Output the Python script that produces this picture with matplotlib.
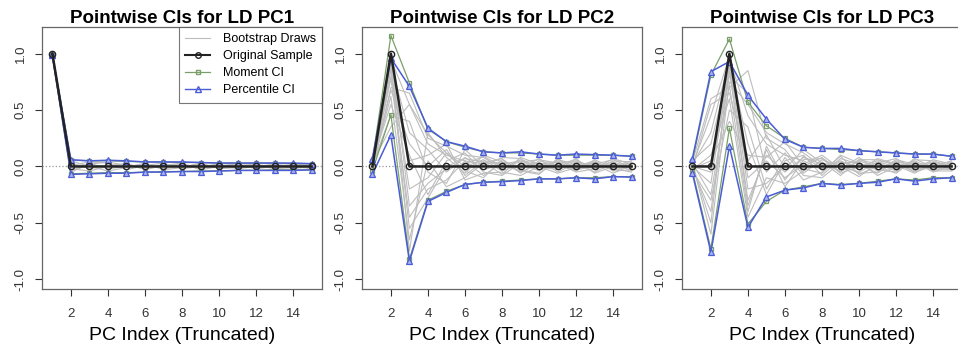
import numpy as np
import matplotlib
matplotlib.use("Agg")
import matplotlib.pyplot as plt
from matplotlib.lines import Line2D

plt.rcParams['font.family'] = ['Liberation Sans', 'DejaVu Sans']

pc_index = np.arange(1, 16)
titles = ["Pointwise CIs for LD PC1", "Pointwise CIs for LD PC2", "Pointwise CIs for LD PC3"]

# original sample loadings
orig_1 = [1, 0, 0, 0, 0, 0, 0, 0, 0, 0, 0, 0, 0, 0, 0]
orig_2 = [0, 1, 0, 0, 0, 0, 0, 0, 0, 0, 0, 0, 0, 0, 0]
orig_3 = [0, 0, 1, 0, 0, 0, 0, 0, 0, 0, 0, 0, 0, 0, 0]

# percentile CI
pct_hi_1 = [0.99, 0.06, 0.05, 0.055, 0.05, 0.04, 0.04, 0.04, 0.035, 0.03, 0.03, 0.03, 0.03, 0.03, 0.025]
pct_lo_1 = [0.985, -0.07, -0.065, -0.06, -0.06, -0.05, -0.05, -0.045, -0.045, -0.04, -0.035, -0.035, -0.035, -0.035, -0.03]
pct_hi_2 = [0.07, 0.96, 0.71, 0.34, 0.22, 0.18, 0.13, 0.12, 0.13, 0.11, 0.10, 0.11, 0.105, 0.10, 0.09]
pct_lo_2 = [-0.07, 0.28, -0.84, -0.31, -0.23, -0.16, -0.14, -0.135, -0.125, -0.11, -0.11, -0.10, -0.11, -0.09, -0.095]
pct_hi_3 = [0.07, 0.84, 0.93, 0.63, 0.42, 0.24, 0.17, 0.16, 0.16, 0.14, 0.13, 0.12, 0.11, 0.11, 0.09]
pct_lo_3 = [-0.06, -0.76, 0.18, -0.54, -0.27, -0.21, -0.19, -0.15, -0.165, -0.15, -0.14, -0.11, -0.13, -0.11, -0.10]

# moment CI
mom_hi_1 = [0.99, 0.055, 0.05, 0.05, 0.045, 0.04, 0.04, 0.035, 0.035, 0.03, 0.03, 0.03, 0.03, 0.025, 0.025]
mom_lo_1 = [0.985, -0.065, -0.06, -0.055, -0.055, -0.05, -0.045, -0.045, -0.04, -0.04, -0.035, -0.035, -0.03, -0.03, -0.03]
mom_hi_2 = [0.05, 1.16, 0.74, 0.33, 0.22, 0.17, 0.13, 0.12, 0.12, 0.11, 0.10, 0.10, 0.10, 0.10, 0.09]
mom_lo_2 = [-0.04, 0.46, -0.82, -0.30, -0.22, -0.16, -0.14, -0.13, -0.12, -0.11, -0.11, -0.10, -0.10, -0.09, -0.09]
mom_hi_3 = [0.05, 0.81, 1.13, 0.57, 0.36, 0.25, 0.17, 0.16, 0.15, 0.14, 0.13, 0.12, 0.11, 0.11, 0.09]
mom_lo_3 = [-0.04, -0.73, 0.34, -0.51, -0.31, -0.21, -0.18, -0.15, -0.16, -0.15, -0.13, -0.11, -0.12, -0.10, -0.10]

# a few bootstrap draws
draws_1 = [
    [0.99, 0.03, -0.02, 0.01, 0.02, -0.01, 0.00, 0.02, -0.01, 0.01, 0.00, -0.01, 0.01, 0.00, 0.01],
    [0.98, -0.04, 0.03, -0.02, 0.00, 0.02, -0.02, 0.00, 0.02, -0.01, 0.01, 0.02, -0.01, 0.01, -0.01],
    [0.99, 0.01, 0.04, 0.03, -0.03, 0.01, 0.03, -0.02, 0.00, 0.02, -0.02, 0.00, 0.02, -0.02, 0.00],
    [0.99, -0.02, -0.04, 0.00, 0.03, -0.03, 0.01, 0.03, -0.03, 0.00, 0.02, -0.02, 0.00, 0.02, 0.01],
    [0.98, 0.05, 0.00, -0.04, -0.01, 0.03, -0.03, -0.01, 0.03, -0.02, -0.01, 0.01, -0.02, -0.01, 0.02],
    [0.99, -0.05, 0.02, 0.04, 0.01, -0.02, 0.02, 0.01, -0.02, 0.03, 0.01, -0.01, 0.02, 0.00, -0.02],
]
draws_2 = [
    [0.02, 0.95, 0.55, 0.20, 0.10, 0.05, 0.02, 0.04, 0.00, 0.03, -0.02, 0.01, 0.03, 0.00, 0.02],
    [-0.01, 0.90, 0.30, 0.15, -0.05, 0.08, -0.03, 0.02, 0.05, -0.01, 0.02, -0.03, 0.00, 0.04, -0.01],
    [0.03, 0.85, -0.20, -0.10, 0.12, 0.00, 0.06, -0.04, 0.02, 0.03, 0.00, 0.05, -0.02, 0.01, 0.03],
    [0.00, 0.78, -0.45, -0.20, -0.12, 0.05, -0.08, 0.03, -0.05, 0.02, 0.04, -0.02, 0.03, -0.03, 0.00],
    [-0.03, 0.70, 0.65, 0.25, 0.18, 0.10, 0.08, -0.02, 0.06, 0.00, -0.03, 0.04, 0.01, 0.02, -0.02],
    [0.01, 0.62, -0.65, 0.05, -0.18, -0.10, 0.03, 0.07, -0.06, 0.05, 0.01, -0.04, 0.06, -0.01, 0.03],
    [0.04, 0.55, 0.10, -0.25, 0.05, 0.12, -0.05, -0.08, 0.03, -0.04, 0.06, 0.02, -0.05, 0.03, -0.04],
    [-0.02, 0.92, -0.75, 0.30, 0.08, -0.06, 0.10, 0.04, -0.02, 0.07, -0.05, 0.03, 0.02, -0.06, 0.01],
    [0.02, 0.45, 0.40, -0.05, -0.15, 0.15, 0.00, 0.08, 0.07, -0.03, 0.02, 0.06, -0.03, 0.05, 0.04],
    [0.00, 0.80, 0.05, 0.10, 0.20, -0.12, -0.06, -0.05, -0.08, 0.00, -0.06, -0.01, 0.04, -0.02, -0.05],
    [-0.04, 0.97, -0.35, -0.15, -0.02, 0.02, 0.09, 0.00, 0.04, 0.06, 0.03, -0.05, -0.02, 0.07, 0.02],
    [0.03, 0.35, 0.55, 0.28, 0.12, -0.04, -0.10, 0.06, -0.03, -0.06, 0.05, 0.00, 0.05, -0.04, -0.03],
    [0.01, 0.88, -0.55, -0.28, 0.00, 0.07, 0.04, -0.07, 0.08, 0.02, -0.02, 0.07, -0.06, 0.00, 0.05],
    [-0.01, 0.68, 0.20, 0.00, 0.15, -0.08, 0.05, 0.02, -0.04, -0.07, 0.07, -0.03, 0.02, 0.06, -0.01],
]
draws_3 = [
    [0.02, 0.30, 0.95, 0.45, 0.20, 0.10, 0.05, -0.03, 0.04, 0.00, 0.03, -0.02, 0.01, 0.04, 0.00],
    [-0.02, -0.40, 0.85, -0.30, 0.10, -0.05, 0.08, 0.02, -0.04, 0.05, -0.01, 0.03, -0.03, 0.00, 0.02],
    [0.04, 0.60, 0.70, 0.85, 0.25, 0.15, -0.06, 0.06, 0.00, -0.05, 0.04, 0.00, 0.05, -0.02, 0.03],
    [0.00, -0.15, 0.92, 0.20, -0.25, 0.05, 0.10, -0.08, 0.07, 0.02, -0.06, 0.05, 0.00, 0.03, -0.03],
    [-0.03, 0.10, 0.60, -0.45, -0.10, -0.15, -0.04, 0.04, -0.08, 0.06, 0.02, -0.04, 0.04, -0.05, 0.01],
    [0.03, -0.60, 0.75, 0.55, 0.30, 0.20, 0.12, 0.00, 0.05, -0.03, 0.07, 0.02, -0.04, 0.02, 0.04],
    [0.01, 0.45, 0.98, -0.10, 0.05, -0.10, 0.02, 0.10, -0.02, 0.08, -0.04, 0.06, 0.02, -0.03, -0.02],
    [-0.04, -0.30, 0.50, 0.35, -0.20, 0.08, -0.12, -0.05, 0.09, -0.07, 0.00, -0.06, 0.06, 0.05, 0.00],
    [0.05, 0.20, 0.88, -0.35, 0.15, -0.18, 0.06, 0.07, -0.06, 0.00, 0.05, 0.03, -0.05, 0.00, 0.05],
    [0.00, -0.05, 0.80, 0.65, -0.05, 0.12, -0.08, -0.10, 0.03, 0.04, -0.08, 0.00, 0.03, -0.04, -0.04],
    [-0.01, 0.55, 0.65, 0.05, 0.28, -0.02, 0.15, 0.03, 0.00, -0.09, 0.03, 0.07, -0.02, 0.06, 0.02],
    [0.02, -0.50, 0.93, -0.20, -0.15, 0.00, -0.02, -0.06, 0.10, 0.03, -0.03, -0.05, 0.07, -0.01, -0.03],
    [-0.02, 0.05, 0.40, 0.10, 0.08, 0.22, 0.00, 0.08, -0.05, 0.06, 0.06, 0.01, -0.06, 0.03, 0.01],
    [0.03, -0.25, 0.72, -0.40, 0.18, -0.12, 0.09, -0.02, 0.02, -0.06, -0.05, 0.04, 0.01, -0.02, 0.03],
]

panels = [
    (draws_1, orig_1, mom_hi_1, mom_lo_1, pct_hi_1, pct_lo_1),
    (draws_2, orig_2, mom_hi_2, mom_lo_2, pct_hi_2, pct_lo_2),
    (draws_3, orig_3, mom_hi_3, mom_lo_3, pct_hi_3, pct_lo_3),
]

GREY = '#bdbdbd'
GREEN = '#7a9f6a'
BLUE = '#4a5cd6'
FRAME = '#666666'

fig = plt.figure(figsize=(9.58, 3.52), dpi=100)
lefts = [42, 362, 682]

for k, (draws, orig, mhi, mlo, phi, plo) in enumerate(panels):
    ax = fig.add_axes([lefts[k] / 958, 1 - 289 / 352, 280 / 958, 262 / 352])
    ax.axhline(0, color='#999999', ls=':', lw=0.9, zorder=1)
    for d in draws:
        ax.plot(pc_index, d, color=GREY, lw=0.8, zorder=2)
    for s in (mhi, mlo):
        ax.plot(pc_index, s, color=GREEN, lw=0.9, marker='s', ms=3.5,
                mfc='none', mec=GREEN, mew=0.9, zorder=3)
    for s in (phi, plo):
        ax.plot(pc_index, s, color=BLUE, lw=1.1, marker='^', ms=4.5,
                mfc='#aab3ee', mec=BLUE, mew=0.9, zorder=4)
    ax.plot(pc_index, orig, color='#222222', lw=1.8, marker='o', ms=4.5,
            mfc='none', mec='#222222', mew=1.0, zorder=5)

    ax.set_xlim(0.44, 15.56)
    ax.set_ylim(-1.086, 1.236)
    ax.set_xticks(range(2, 15, 2))
    ax.set_yticks([-1.0, -0.5, 0.0, 0.5, 1.0])
    ax.set_yticklabels(['-1.0', '-0.5', '0.0', '0.5', '1.0'], rotation=90, va='center')
    ax.tick_params(colors='#333333', labelsize=9.5, length=5, width=0.8)
    ax.tick_params(axis='x', pad=9)
    ax.tick_params(axis='y', pad=6)
    for sp in ax.spines.values():
        sp.set_color(FRAME)
        sp.set_linewidth(0.9)
    ax.set_title(titles[k], fontsize=13.5, fontweight='bold', pad=3)
    ax.set_xlabel("PC Index (Truncated)", fontsize=14, labelpad=5)

    if k == 0:
        handles = [
            Line2D([], [], color=GREY, lw=0.8),
            Line2D([], [], color='#222222', lw=1.5, marker='o', ms=4, mfc='none'),
            Line2D([], [], color=GREEN, lw=0.9, marker='s', ms=3.5, mfc='none', mec=GREEN),
            Line2D([], [], color=BLUE, lw=1.0, marker='^', ms=4, mfc='none', mec=BLUE),
        ]
        leg = ax.legend(handles, ["Bootstrap Draws", "Original Sample", "Moment CI", "Percentile CI"],
                        loc='upper right', bbox_to_anchor=(1.0, 1.0), borderaxespad=0,
                        fontsize=9, frameon=True, fancybox=False, handlelength=2.0,
                        labelspacing=0.4, borderpad=0.5, handletextpad=1.0)
        leg.get_frame().set_edgecolor('#555555')
        leg.get_frame().set_linewidth(0.8)

fig.savefig("out.png", dpi=100)
